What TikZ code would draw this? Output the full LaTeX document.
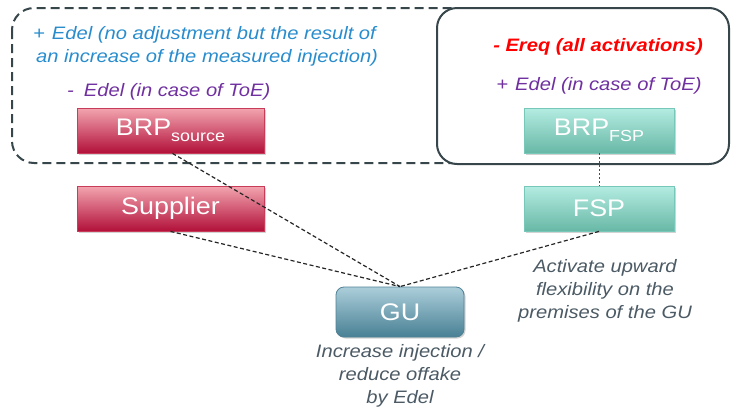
\documentclass[tikz,border=0pt]{standalone}
\usepackage{fontspec}
\setmainfont[FakeStretch=1.12]{Liberation Sans}
\usetikzlibrary{shadows}
\definecolor{edgeC}{RGB}{55,70,75}
\definecolor{blueT}{RGB}{40,140,205}
\definecolor{purpT}{RGB}{112,48,160}
\definecolor{grayT}{RGB}{75,90,100}
\definecolor{redTop}{RGB}{242,165,175}
\definecolor{redBot}{RGB}{178,16,58}
\definecolor{redEdge}{RGB}{200,60,90}
\definecolor{tealTop}{RGB}{180,236,226}
\definecolor{tealBot}{RGB}{104,184,166}
\definecolor{tealEdge}{RGB}{120,200,185}
\definecolor{guTop}{RGB}{172,206,218}
\definecolor{guBot}{RGB}{72,128,148}
\definecolor{guEdge}{RGB}{80,130,150}
\tikzset{
  boxbase/.style={minimum height=45pt, inner sep=0pt, text=white,
    font=\fontsize{24}{24}\selectfont, drop shadow={shadow xshift=1.5pt, shadow yshift=-1.5pt, opacity=0.35}},
  redbox/.style={boxbase, minimum width=187pt, top color=redTop, bottom color=redBot, draw=redEdge, line width=0.8pt},
  tealbox/.style={boxbase, minimum width=150pt, top color=tealTop, bottom color=tealBot, draw=tealEdge, line width=0.8pt},
  gubox/.style={boxbase, minimum width=128pt, minimum height=50pt, rounded corners=8pt, top color=guTop, bottom color=guBot, draw=guEdge, line width=0.8pt},
  note/.style={font=\fontsize{18}{23}\selectfont\itshape, inner sep=0pt},
  link/.style={black!85, line width=1.2pt, dash pattern=on 4pt off 2.5pt},
}
\begin{document}
\begin{tikzpicture}[x=1pt,y=-1pt]
\useasboundingbox (0,0) rectangle (732,413);
% dashed group
\draw[edgeC, line width=2pt, dash pattern=on 9pt off 5pt, rounded corners=22pt] (12,8) rectangle (480,163);
% solid group
\draw[edgeC, line width=2pt, fill=white, rounded corners=20pt] (437,8) rectangle (729,164);

\node[note, text=blueT, anchor=west] (t1) at (33,35) {+\hspace{7pt}Edel (no adjustment but the result of};
\node[note, text=blueT, anchor=west] (t2) at (36,58) {an increase of the measured injection)};
\node[note, text=purpT, anchor=west] (t3) at (67,92) {-\hspace{10pt}Edel (in case of ToE)};
\node[note, text=red, font=\fontsize{18}{23}\selectfont\bfseries\itshape] (t4) at (598,47) {- Ereq (all activations)};
\node[note, text=purpT] (t5) at (599,86) {+\hspace{7pt}Edel (in case of ToE)};

\node[redbox] (brps) at (170.5,130.5) {BRP\raisebox{-6pt}{\fontsize{16}{16}\selectfont source}};
\node[redbox] (sup) at (170.5,208.5) {Supplier};
\node[tealbox] (brpf) at (599,130.5) {BRP\raisebox{-6pt}{\fontsize{16}{16}\selectfont FSP}};
\node[tealbox] (fsp) at (599,208.5) {FSP};
\node[gubox] (gu) at (400,312) {GU};

\node[note, text=grayT, align=center] (t6) at (605,291) {Activate upward\\flexibility on the\\premises of the GU};
\node[note, text=grayT, align=center] (t7) at (400,376) {Increase injection /\\reduce offake\\by Edel};

\draw[link] (brps.south) ++(2,0) coordinate (bs) (bs) -- (gu.north);
\draw[link] (sup.south) -- (gu.north);
\draw[link] (fsp.south) -- (gu.north);
\draw[black!70, line width=1pt, dash pattern=on 2pt off 2pt] (brpf.south) -- (fsp.north);
\end{tikzpicture}
\end{document}
